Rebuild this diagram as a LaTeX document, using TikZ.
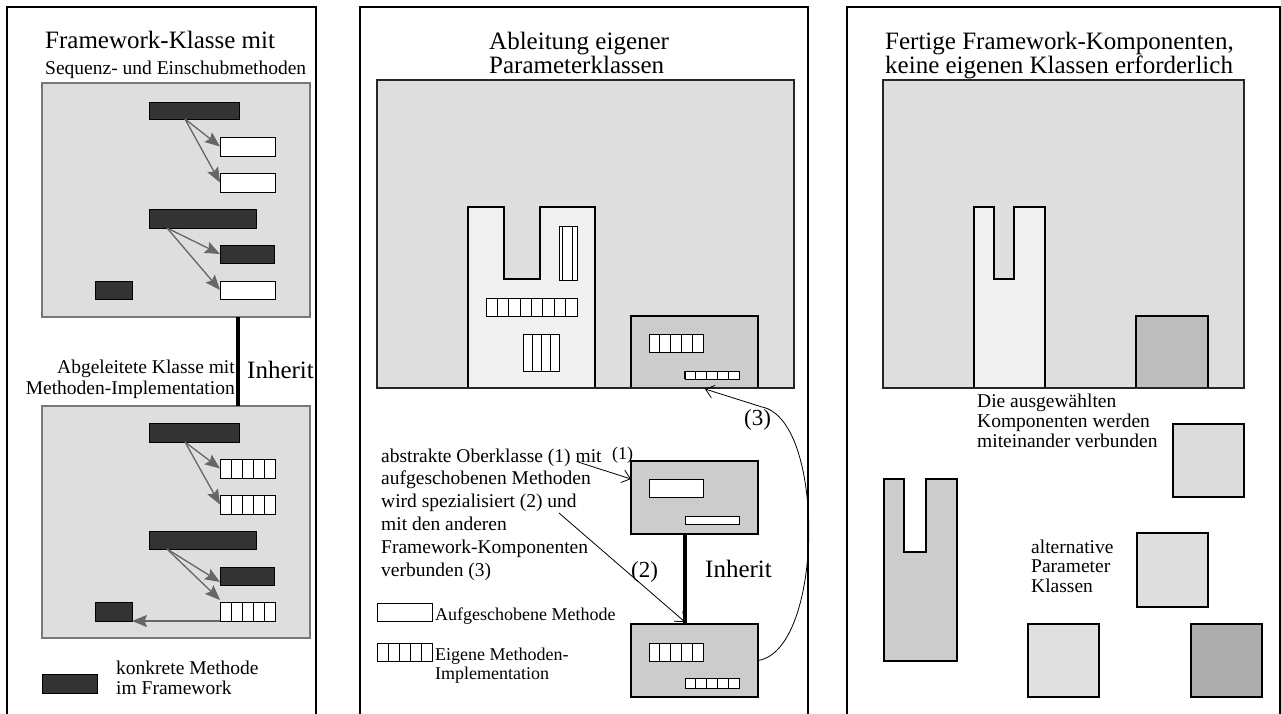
\documentclass[tikz,border=0pt]{standalone}
\usepackage{fontspec}
\setmainfont{Liberation Serif}
\usetikzlibrary{arrows.meta,calc}

\definecolor{panelgray}{gray}{0.87}
\definecolor{framegray}{gray}{0.47}
\definecolor{methdark}{gray}{0.2}
\definecolor{arrowgray}{gray}{0.40}
\definecolor{lightpart}{gray}{0.945}
\definecolor{compgray}{gray}{0.8}
\definecolor{sqA}{gray}{0.74}
\definecolor{sqB}{gray}{0.86}
\definecolor{sqC}{gray}{0.87}
\definecolor{sqD}{gray}{0.88}
\definecolor{sqE}{gray}{0.68}

% rectangle node given by its corners: style, name, x1, y1, x2, y2
\newcommand{\placebox}[6]{%
  \node[#1, minimum width={(#5)-(#3)}, minimum height={(#6)-(#4)}] (#2)
    at ({((#3)+(#5))/2},{((#4)+(#6))/2}) {};}

\tikzset{
  panel/.style={draw=black, line width=1.6pt},
  base/.style={rectangle, inner sep=0pt, outer sep=0pt},
  frameL/.style={base, fill=panelgray, draw=framegray, line width=1.4pt},
  frameM/.style={base, fill=panelgray, draw=black!85, line width=1.3pt},
  concrete/.style={base, fill=methdark, draw=black, line width=0.8pt},
  deferred/.style={base, fill=white, draw=black, line width=0.8pt},
  cells/.style={base, fill=white, draw=black, line width=0.9pt,
    path picture={
      \pgfmathtruncatemacro\lastcell{#1-1}
      \foreach \k in {1,...,\lastcell}{
        \draw[black, line width=0.9pt]
          ($(path picture bounding box.south west)!\k/#1!(path picture bounding box.south east)$) --
          ($(path picture bounding box.north west)!\k/#1!(path picture bounding box.north east)$);
      }}},
  comp/.style={base, fill=compgray, draw=black, line width=1.5pt},
  square/.style={base, draw=black, line width=1.5pt},
  partline/.style={draw=black, line width=1.5pt},
  garrow/.style={draw=arrowgray, line width=1.3pt, -{Stealth[length=15pt,width=12pt,inset=2.5pt]}},
  barrow/.style={draw=black, line width=0.8pt, -{Straight Barb[length=8pt,width=13pt]}},
  inherit/.style={draw=black, line width=4.5pt},
  ttl/.style={inner sep=0pt, font=\fontsize{25}{23}\selectfont},
  txt/.style={inner sep=0pt, font=\fontsize{19.5}{22}\selectfont},
  lgd/.style={inner sep=0pt, font=\fontsize{18}{20}\selectfont},
  num/.style={inner sep=0pt, font=\fontsize{23}{25}\selectfont},
}

\begin{document}
\begin{tikzpicture}[x=1pt, y=-1pt]
\useasboundingbox (0,0) rectangle (1281,713);
\fill[white] (0,0) rectangle (1281,713);

% ---------------- left panel: framework class and derived class
\draw[panel] (7,720) -- (7,7) -- (316,7) -- (316,720);
\node[ttl, anchor=base west] (tLa) at (45,48) {Framework-Klasse mit};
\node[txt, anchor=base west] (tLb) at (45,74) {Sequenz- und Einschubmethoden};

\placebox{frameL}{fw}{42}{83}{310}{317}
\placebox{concrete}{fa1}{149}{102}{239}{119}
\placebox{deferred}{fw1}{220}{137}{275}{156}
\placebox{deferred}{fw2}{220}{173}{275}{192}
\placebox{concrete}{fa2}{149}{209}{256}{228}
\placebox{concrete}{fd1}{220}{245}{274}{263}
\placebox{deferred}{fw3}{220}{281}{275}{299}
\placebox{concrete}{fs1}{95}{281}{132}{299}

\draw[garrow] ($(fa1.south)+(-9,0)$) -- (fw1.west);
\draw[garrow] ($(fa1.south)+(-9,0)$) -- (fw2.west);
\draw[garrow] ($(fa2.south)+(-35.5,0)$) -- (fd1.west);
\draw[garrow] ($(fa2.south)+(-35.5,0)$) -- (fw3.west);

\placebox{frameL}{dc}{42}{406}{310}{638}
\draw[inherit] ($(fw.south)+(62,0)$) -- ($(dc.north)+(62,0)$);
\node[txt, anchor=base east] (tDa) at (235,373) {Abgeleitete Klasse mit};
\node[txt, anchor=base east] (tDb) at (235,394) {Methoden-Implementation};
\node[ttl, anchor=base west] (inhL) at (247,378) {Inherit};

\placebox{concrete}{da1}{149}{423}{239}{442}
\placebox{cells=5}{dh1}{220}{459}{275}{478}
\placebox{cells=5}{dh2}{220}{495}{275}{514}
\placebox{concrete}{da2}{149}{531}{256}{549}
\placebox{concrete}{dd1}{220}{567}{274}{585}
\placebox{cells=5}{dh3}{220}{602}{275}{621}
\placebox{concrete}{ds1}{95}{602}{132}{621}

\draw[garrow] ($(da1.south)+(-9,0)$) -- (dh1.west);
\draw[garrow] ($(da1.south)+(-9,0)$) -- (dh2.west);
\draw[garrow] ($(da2.south)+(-35.5,0)$) -- ($(dd1.west)+(0,6)$);
\draw[garrow] ($(da2.south)+(-35.5,0)$) -- ($(dh3.north west)+(0,-2)$);
\draw[garrow] (dh3.south west) -- (ds1.south east);

\placebox{concrete}{lgC}{42}{674}{97}{693}
\node[txt, anchor=base west] (lgCa) at (116,674) {konkrete Methode};
\node[txt, anchor=base west] (lgCb) at (116,694) {im Framework};

% ---------------- middle panel: deriving own parameter classes
\draw[panel] (360,720) -- (360,7) -- (808,7) -- (808,720);
\node[ttl, anchor=base west] (tMa) at (489,49) {Ableitung eigener};
\node[ttl, anchor=base west] (tMb) at (489,73) {Parameterklassen};

\placebox{frameM}{mb}{377}{80}{794}{388}
\fill[lightpart] (468,388) -- (468,207) -- (504,207) -- (504,279) -- (540,279)
  -- (540,207) -- (595,207) -- (595,388) -- cycle;
\draw[partline] (468,388) -- (468,207) -- (504,207) -- (504,279) -- (540,279)
  -- (540,207) -- (595,207) -- (595,388);
\placebox{deferred}{mv}{559}{226}{577}{280}
\draw[line width=0.9pt] ($(mv.south west)+(3,0)$) -- ($(mv.north west)+(3,0)$);
\draw[line width=0.9pt] ($(mv.south east)+(-5,0)$) -- ($(mv.north east)+(-5,0)$);
\placebox{cells=8}{mh8}{486}{298}{577}{316}
\placebox{cells=4}{mv4}{523}{334}{559}{371}

\placebox{comp}{mc}{631}{316}{758}{388}
\placebox{cells=5}{mch}{649}{334}{703}{352}
\placebox{cells=5}{mcs}{685}{371}{739}{379}
\draw[line width=2pt] (mcs.south west) -- (mcs.north west);
\draw[draw=black!85, line width=1.3pt] (mb.south west) -- (mb.south east);

\placebox{comp}{ab}{631}{461}{758}{534}
\placebox{deferred}{abw}{649}{479}{703}{497}
\placebox{deferred}{abs}{685}{516}{739}{524}

\placebox{comp}{sp}{631}{624}{758}{697}
\placebox{cells=5}{sph}{649}{643}{703}{661}
\placebox{cells=5}{sps}{685}{678}{739}{688}

\draw[inherit] ($(ab.south)+(-9.5,0)$) -- ($(sp.north)+(-9.5,0)$);
\node[ttl, anchor=base west] (inhM) at (705,577) {Inherit};

\node[txt, anchor=base west] (d1) at (381,462) {abstrakte Oberklasse (1) mit};
\node[txt, anchor=base west] (d2) at (381,484) {aufgeschobenen Methoden};
\node[txt, anchor=base west] (d3) at (381,507) {wird spezialisiert (2) und};
\node[txt, anchor=base west] (d4) at (381,530) {mit den anderen};
\node[txt, anchor=base west] (d5) at (381,553) {Framework-Komponenten};
\node[txt, anchor=base west] (d6) at (381,576) {verbunden (3)};

\coordinate (a1s) at (578,462);
\coordinate (a2s) at (559,513);
\draw[barrow] (a1s) -- ($(ab.west)+(0,-18.5)$);
\node[lgd, anchor=base west] (n1) at (612,459) {(1)};
\draw[barrow] (a2s) -- ($(sp.north)+(-9.5,-2)$);
\node[num, anchor=base west] (n2) at (631,577) {(2)};

\coordinate (c3) at (762,407);
\draw[barrow] (sp.east) .. controls (824,650) and (826,420) .. (c3) -- ($(mc.south)+(10.5,1)$);
\node[num, anchor=base west] (n3) at (744,425) {(3)};

\placebox{deferred}{lgW}{377}{603}{432}{621}
\node[lgd, anchor=base west] (lgWa) at (435,620) {Aufgeschobene Methode};
\placebox{cells=5}{lgH}{377}{643}{432}{661}
\node[lgd, anchor=base west] (lgHa) at (435,660) {Eigene Methoden-};
\node[lgd, anchor=base west] (lgHb) at (435,679) {Implementation};

% ---------------- right panel: ready-made framework components
\draw[panel] (847,720) -- (847,7) -- (1280,7) -- (1280,720);
\node[ttl, anchor=base west] (tRa) at (885,49) {Fertige Framework-Komponenten,};
\node[ttl, anchor=base west] (tRb) at (885,73) {keine eigenen Klassen erforderlich};

\placebox{frameM}{rb}{883}{80}{1244}{388}
\fill[lightpart] (974,388) -- (974,207) -- (994,207) -- (994,279) -- (1014,279)
  -- (1014,207) -- (1045,207) -- (1045,388) -- cycle;
\draw[partline] (974,388) -- (974,207) -- (994,207) -- (994,279) -- (1014,279)
  -- (1014,207) -- (1045,207) -- (1045,388);
\placebox{square, fill=sqA}{rq}{1136}{316}{1208}{388}
\draw[draw=black!85, line width=1.3pt] (rb.south west) -- (rb.south east);

\node[txt, anchor=base west] (r1) at (977,407) {Die ausgewählten};
\node[txt, anchor=base west] (r2) at (977,427) {Komponenten werden};
\node[txt, anchor=base west] (r3) at (977,447) {miteinander verbunden};

\filldraw[fill=compgray, partline] (884,661) -- (884,479) -- (904,479) -- (904,552)
  -- (926,552) -- (926,479) -- (957,479) -- (957,661) -- cycle;

\placebox{square, fill=sqB}{q1}{1173}{424}{1244}{497}
\placebox{square, fill=sqC}{q2}{1137}{533}{1208}{607}
\placebox{square, fill=sqD}{q3}{1028}{624}{1099}{697}
\placebox{square, fill=sqE}{q4}{1191}{624}{1262}{697}

\node[txt, anchor=base west] (p1) at (1031,553) {alternative};
\node[txt, anchor=base west] (p2) at (1031,572) {Parameter};
\node[txt, anchor=base west] (p3) at (1031,592) {Klassen};
\end{tikzpicture}
\end{document}
